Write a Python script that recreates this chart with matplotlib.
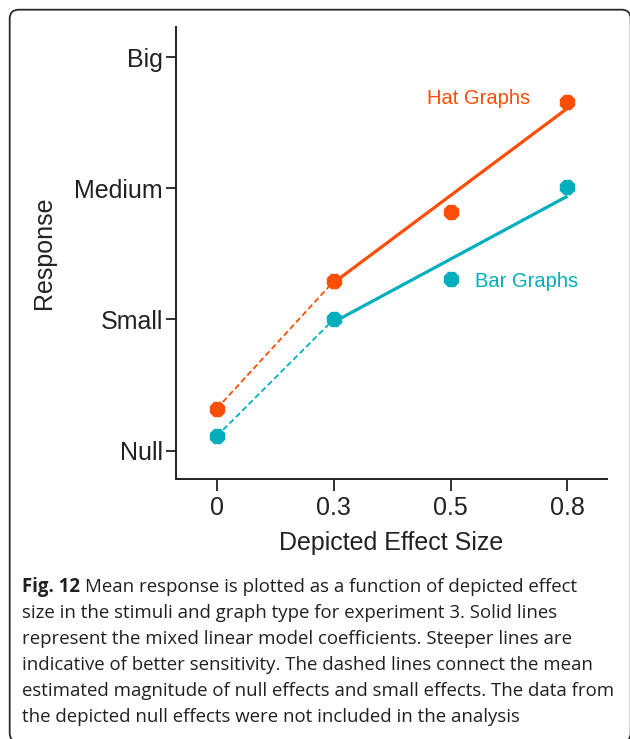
import matplotlib
matplotlib.use("Agg")
import matplotlib.pyplot as plt
from matplotlib.patches import FancyBboxPatch
from matplotlib.transforms import IdentityTransform

# Data
effect_sizes = ["0", "0.3", "0.5", "0.8"]
response_levels = ["Null", "Small", "Medium", "Big"]

hat_means = [0.32, 1.29, 1.82, 2.66]
bar_means = [0.11, 1.00, 1.31, 2.01]

# Mixed linear model fit (0.3 -> 0.8)
hat_fit = [1.28, 2.61]
bar_fit = [0.98, 1.94]

hat_color = "#FC4E07"
bar_color = "#00AFBB"

caption_lines = [
    "size in the stimuli and graph type for experiment 3. Solid lines",
    "represent the mixed linear model coefficients. Steeper lines are",
    "indicative of better sensitivity. The dashed lines connect the mean",
    "estimated magnitude of null effects and small effects. The data from",
    "the depicted null effects were not included in the analysis",
]
caption_head = "Fig. 12"
caption_first = "Mean response is plotted as a function of depicted effect"

W, H, DPI = 630, 739, 100
fig = plt.figure(figsize=(W / DPI, H / DPI), dpi=DPI)
fig.patch.set_facecolor("white")

# Outer rounded frame
frame = FancyBboxPatch((9.7, -3), 621, H - 9.7 + 3,
                       boxstyle="round,pad=0,rounding_size=9",
                       transform=IdentityTransform(), fill=False,
                       edgecolor="#2b2b2b", linewidth=1.3)
fig.add_artist(frame)

ax = fig.add_axes([175.7 / W, 1 - 479 / H, (606.7 - 175.7) / W, (479 - 26.7) / H])

x = list(range(len(effect_sizes)))

# dashed connectors between null and small effects
ax.plot(x[:2], hat_means[:2], color=hat_color, lw=1.3, ls=(0, (3.2, 1.8)))
ax.plot(x[:2], bar_means[:2], color=bar_color, lw=1.3, ls=(0, (3.2, 1.8)))

# model lines
ax.plot([x[1], x[3]], hat_fit, color=hat_color, lw=2.3, solid_capstyle="butt")
ax.plot([x[1], x[3]], bar_fit, color=bar_color, lw=2.3, solid_capstyle="butt")

# mean points
ax.plot(x, hat_means, ls="none", marker="8", ms=11.5, color=hat_color, mec=hat_color)
ax.plot(x, bar_means, ls="none", marker="8", ms=11.5, color=bar_color, mec=bar_color)

font = "Liberation Sans"
ax.text(2.24, 2.683, "Hat Graphs", color=hat_color, fontsize=14.5,
        family=font, ha="center", va="center")
ax.text(2.65, 1.289, "Bar Graphs", color=bar_color, fontsize=14.5,
        family=font, ha="center", va="center")

ax.set_xlim(-0.351, 3.336)
ax.set_ylim(-0.216, 3.232)
ax.set_xticks(x)
ax.set_xticklabels(effect_sizes)
ax.set_yticks(range(len(response_levels)))
ax.set_yticklabels(response_levels)

for s in ["top", "right"]:
    ax.spines[s].set_visible(False)
for s in ["left", "bottom"]:
    ax.spines[s].set_linewidth(1.4)
    ax.spines[s].set_color("#222222")

ax.tick_params(axis="y", length=7, width=1.3, pad=2.2, labelsize=18, colors="#222222")
ax.tick_params(axis="x", length=8.5, width=1.3, pad=4, labelsize=18, colors="#222222")
for lab in ax.get_xticklabels() + ax.get_yticklabels():
    lab.set_family(font)

fig.text(391 / W, 1 - 543 / H, "Depicted Effect Size", fontsize=18, family=font,
         ha="center", va="center", color="#222222")
fig.text(44 / W, 1 - 253 / H, "Response", fontsize=18, family=font,
         rotation=90, ha="center", va="center", color="#222222")

# Caption
cap_font = "Open Sans"
cap_size = 13.4
x0 = 22.5
base0 = 592.3
step = 26.0
head = fig.text(x0 / W, 1 - base0 / H, caption_head, fontsize=cap_size,
                family=cap_font, weight="bold", va="baseline", ha="left", color="#231f20")
fig.canvas.draw()
bb = head.get_window_extent()
fig.text((bb.x1 + 4.5) / W, 1 - base0 / H, caption_first, fontsize=cap_size,
         family=cap_font, va="baseline", ha="left", color="#231f20")
for i, line in enumerate(caption_lines):
    fig.text(x0 / W, 1 - (base0 + step * (i + 1)) / H, line, fontsize=cap_size,
             family=cap_font, va="baseline", ha="left", color="#231f20")

fig.savefig("out.png", dpi=DPI, facecolor="white")
